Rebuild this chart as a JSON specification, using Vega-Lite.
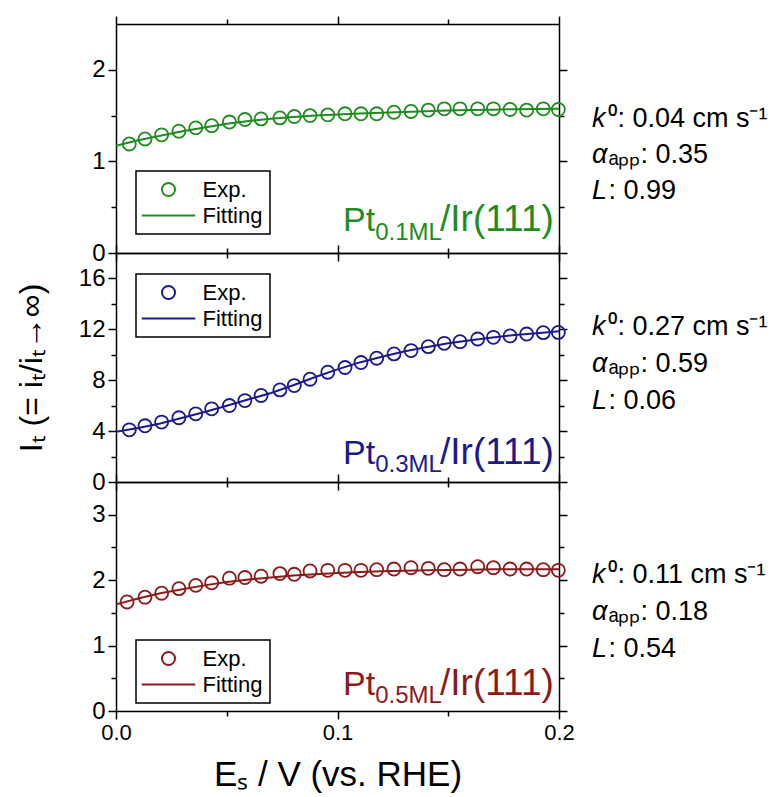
{
  "$schema": "https://vega.github.io/schema/vega-lite/v6.json",
  "background": "white",
  "padding": {"left": 15, "top": 15, "right": 5, "bottom": 5},
  "config": {
    "font": "Liberation Sans",
    "view": {"stroke": null},
    "axis": {"domainColor": "black", "domainWidth": 1.5, "tickColor": "black", "tickWidth": 1.5, "labelFont": "Liberation Sans", "labelFontSize": 22, "labelColor": "black", "labelPadding": 3, "grid": false, "titleFont": "Liberation Sans", "titleFontSize": 32, "titleFontWeight": "normal", "titleColor": "black", "labelOverlap": false, "labelFlush": false},
    "axisY": {"labelFontSize": 24},
    "legend": {"title": null, "orient": "none", "padding": 7.5, "strokeColor": "black", "strokeWidth": 1.5, "fillColor": "white", "labelFont": "Liberation Sans", "labelFontSize": 22, "labelColor": "black", "symbolOffset": 14, "labelOffset": 23, "rowPadding": 4, "symbolSize": 170, "symbolStrokeWidth": 2, "symbolFillColor": "transparent", "labelLimit": 300}
  },
  "datasets": {
    "exp": [
      {"p":"A","E":0.006,"IT":1.19,"series":"Exp."},{"p":"A","E":0.0131,"IT":1.245,"series":"Exp."},{"p":"A","E":0.0206,"IT":1.29,"series":"Exp."},{"p":"A","E":0.0284,"IT":1.33,"series":"Exp."},{"p":"A","E":0.036,"IT":1.366,"series":"Exp."},{"p":"A","E":0.0432,"IT":1.39,"series":"Exp."},{"p":"A","E":0.0512,"IT":1.43,"series":"Exp."},{"p":"A","E":0.0582,"IT":1.457,"series":"Exp."},{"p":"A","E":0.0655,"IT":1.464,"series":"Exp."},{"p":"A","E":0.074,"IT":1.475,"series":"Exp."},{"p":"A","E":0.0805,"IT":1.49,"series":"Exp."},{"p":"A","E":0.0876,"IT":1.5,"series":"Exp."},{"p":"A","E":0.0956,"IT":1.508,"series":"Exp."},{"p":"A","E":0.1034,"IT":1.52,"series":"Exp."},{"p":"A","E":0.1106,"IT":1.52,"series":"Exp."},{"p":"A","E":0.1177,"IT":1.52,"series":"Exp."},{"p":"A","E":0.1255,"IT":1.537,"series":"Exp."},{"p":"A","E":0.1332,"IT":1.545,"series":"Exp."},{"p":"A","E":0.141,"IT":1.56,"series":"Exp."},{"p":"A","E":0.1482,"IT":1.574,"series":"Exp."},{"p":"A","E":0.1553,"IT":1.574,"series":"Exp."},{"p":"A","E":0.1633,"IT":1.574,"series":"Exp."},{"p":"A","E":0.1704,"IT":1.574,"series":"Exp."},{"p":"A","E":0.1779,"IT":1.567,"series":"Exp."},{"p":"A","E":0.1854,"IT":1.56,"series":"Exp."},{"p":"A","E":0.1929,"IT":1.574,"series":"Exp."},{"p":"A","E":0.1997,"IT":1.567,"series":"Exp."},
      {"p":"B","E":0.006,"IT":4.1,"series":"Exp."},{"p":"B","E":0.0131,"IT":4.42,"series":"Exp."},{"p":"B","E":0.0206,"IT":4.71,"series":"Exp."},{"p":"B","E":0.0284,"IT":5.05,"series":"Exp."},{"p":"B","E":0.036,"IT":5.36,"series":"Exp."},{"p":"B","E":0.0432,"IT":5.75,"series":"Exp."},{"p":"B","E":0.0512,"IT":6.01,"series":"Exp."},{"p":"B","E":0.0582,"IT":6.4,"series":"Exp."},{"p":"B","E":0.0655,"IT":6.8,"series":"Exp."},{"p":"B","E":0.074,"IT":7.24,"series":"Exp."},{"p":"B","E":0.0805,"IT":7.58,"series":"Exp."},{"p":"B","E":0.0876,"IT":8.08,"series":"Exp."},{"p":"B","E":0.0956,"IT":8.63,"series":"Exp."},{"p":"B","E":0.1034,"IT":9.0,"series":"Exp."},{"p":"B","E":0.1106,"IT":9.39,"series":"Exp."},{"p":"B","E":0.1177,"IT":9.73,"series":"Exp."},{"p":"B","E":0.1255,"IT":10.07,"series":"Exp."},{"p":"B","E":0.1332,"IT":10.33,"series":"Exp."},{"p":"B","E":0.141,"IT":10.64,"series":"Exp."},{"p":"B","E":0.1482,"IT":10.9,"series":"Exp."},{"p":"B","E":0.1553,"IT":11.03,"series":"Exp."},{"p":"B","E":0.1633,"IT":11.24,"series":"Exp."},{"p":"B","E":0.1704,"IT":11.37,"series":"Exp."},{"p":"B","E":0.1779,"IT":11.48,"series":"Exp."},{"p":"B","E":0.1854,"IT":11.63,"series":"Exp."},{"p":"B","E":0.1929,"IT":11.74,"series":"Exp."},{"p":"B","E":0.1997,"IT":11.76,"series":"Exp."},
      {"p":"C","E":0.005,"IT":1.666,"series":"Exp."},{"p":"C","E":0.0131,"IT":1.74,"series":"Exp."},{"p":"C","E":0.0206,"IT":1.8,"series":"Exp."},{"p":"C","E":0.0284,"IT":1.87,"series":"Exp."},{"p":"C","E":0.036,"IT":1.92,"series":"Exp."},{"p":"C","E":0.0432,"IT":1.96,"series":"Exp."},{"p":"C","E":0.0512,"IT":2.03,"series":"Exp."},{"p":"C","E":0.0582,"IT":2.04,"series":"Exp."},{"p":"C","E":0.0655,"IT":2.06,"series":"Exp."},{"p":"C","E":0.074,"IT":2.1,"series":"Exp."},{"p":"C","E":0.0805,"IT":2.09,"series":"Exp."},{"p":"C","E":0.0876,"IT":2.14,"series":"Exp."},{"p":"C","E":0.0956,"IT":2.15,"series":"Exp."},{"p":"C","E":0.1034,"IT":2.15,"series":"Exp."},{"p":"C","E":0.1106,"IT":2.15,"series":"Exp."},{"p":"C","E":0.1177,"IT":2.16,"series":"Exp."},{"p":"C","E":0.1255,"IT":2.17,"series":"Exp."},{"p":"C","E":0.1332,"IT":2.19,"series":"Exp."},{"p":"C","E":0.141,"IT":2.18,"series":"Exp."},{"p":"C","E":0.1482,"IT":2.16,"series":"Exp."},{"p":"C","E":0.1553,"IT":2.17,"series":"Exp."},{"p":"C","E":0.1633,"IT":2.205,"series":"Exp."},{"p":"C","E":0.1704,"IT":2.19,"series":"Exp."},{"p":"C","E":0.1779,"IT":2.17,"series":"Exp."},{"p":"C","E":0.1854,"IT":2.17,"series":"Exp."},{"p":"C","E":0.1929,"IT":2.16,"series":"Exp."},{"p":"C","E":0.1997,"IT":2.15,"series":"Exp."}
    ],
    "fit": [
      {"p":"A","E":0,"IT":1.17},{"p":"A","E":0.01,"IT":1.23},{"p":"A","E":0.02,"IT":1.28},{"p":"A","E":0.03,"IT":1.33},{"p":"A","E":0.04,"IT":1.37},{"p":"A","E":0.05,"IT":1.41},{"p":"A","E":0.06,"IT":1.44},{"p":"A","E":0.07,"IT":1.465},{"p":"A","E":0.08,"IT":1.485},{"p":"A","E":0.09,"IT":1.5},{"p":"A","E":0.1,"IT":1.512},{"p":"A","E":0.11,"IT":1.522},{"p":"A","E":0.12,"IT":1.532},{"p":"A","E":0.13,"IT":1.54},{"p":"A","E":0.14,"IT":1.548},{"p":"A","E":0.15,"IT":1.555},{"p":"A","E":0.16,"IT":1.56},{"p":"A","E":0.17,"IT":1.565},{"p":"A","E":0.18,"IT":1.57},{"p":"A","E":0.19,"IT":1.573},{"p":"A","E":0.2,"IT":1.576},
      {"p":"B","E":0,"IT":3.95},{"p":"B","E":0.01,"IT":4.25},{"p":"B","E":0.02,"IT":4.6},{"p":"B","E":0.03,"IT":5.05},{"p":"B","E":0.04,"IT":5.5},{"p":"B","E":0.05,"IT":6.0},{"p":"B","E":0.06,"IT":6.5},{"p":"B","E":0.07,"IT":7.0},{"p":"B","E":0.08,"IT":7.6},{"p":"B","E":0.09,"IT":8.25},{"p":"B","E":0.1,"IT":8.85},{"p":"B","E":0.11,"IT":9.4},{"p":"B","E":0.12,"IT":9.85},{"p":"B","E":0.13,"IT":10.25},{"p":"B","E":0.14,"IT":10.6},{"p":"B","E":0.15,"IT":10.9},{"p":"B","E":0.16,"IT":11.15},{"p":"B","E":0.17,"IT":11.35},{"p":"B","E":0.18,"IT":11.55},{"p":"B","E":0.19,"IT":11.7},{"p":"B","E":0.2,"IT":11.85},
      {"p":"C","E":0,"IT":1.63},{"p":"C","E":0.01,"IT":1.72},{"p":"C","E":0.02,"IT":1.8},{"p":"C","E":0.03,"IT":1.86},{"p":"C","E":0.04,"IT":1.92},{"p":"C","E":0.05,"IT":1.97},{"p":"C","E":0.06,"IT":2.01},{"p":"C","E":0.07,"IT":2.04},{"p":"C","E":0.08,"IT":2.07},{"p":"C","E":0.09,"IT":2.09},{"p":"C","E":0.1,"IT":2.11},{"p":"C","E":0.11,"IT":2.125},{"p":"C","E":0.12,"IT":2.135},{"p":"C","E":0.13,"IT":2.145},{"p":"C","E":0.14,"IT":2.15},{"p":"C","E":0.15,"IT":2.155},{"p":"C","E":0.16,"IT":2.16},{"p":"C","E":0.17,"IT":2.165},{"p":"C","E":0.18,"IT":2.165},{"p":"C","E":0.19,"IT":2.165},{"p":"C","E":0.2,"IT":2.165}
    ]
  },
  "spacing": 0,
  "bounds": "flush",
  "resolve": {"scale": {"shape": "independent"}, "legend": {"shape": "independent"}},
  "vconcat": [
    {
      "width": 443, "height": 229,
      "layer": [
        {"data": {"name": "fit"}, "transform": [{"filter": "datum.p === 'A'"}],
         "mark": {"type": "line", "color": "#1e8c1e", "strokeWidth": 2},
         "encoding": {
           "x": {"field": "E", "type": "quantitative", "scale": {"domain": [0, 0.2], "nice": false, "zero": false},
                 "axis": {"orient": "top", "values": [0, 0.05, 0.1, 0.15, 0.2], "labels": false, "title": null, "tickSize": {"condition": {"test": "abs(datum.value*10-round(datum.value*10)) < 0.001", "value": 8}, "value": 5}}},
           "y": {"field": "IT", "type": "quantitative", "scale": {"domain": [0, 2.5], "nice": false},
                 "axis": {"orient": "right", "values": [0, 0.5, 1, 1.5, 2], "labels": false, "title": null, "tickSize": {"condition": {"test": "datum.value % 1 === 0", "value": 8}, "value": 5}}}
         }},
        {"data": {"name": "exp"}, "transform": [{"filter": "datum.p === 'A'"}],
         "mark": {"type": "point", "filled": false, "color": "#1e8c1e", "strokeWidth": 1.8, "size": 170, "opacity": 1},
         "encoding": {
           "x": {"field": "E", "type": "quantitative",
                 "axis": {"orient": "bottom", "values": [0, 0.05, 0.1, 0.15, 0.2], "labels": false, "title": null, "tickSize": {"condition": {"test": "abs(datum.value*10-round(datum.value*10)) < 0.001", "value": 8}, "value": 5}}},
           "y": {"field": "IT", "type": "quantitative",
                 "axis": {"orient": "left", "values": [0, 0.5, 1, 1.5, 2], "labelExpr": "datum.value % 1 === 0 ? format(datum.value, '.0f') : ''", "title": null, "tickSize": {"condition": {"test": "datum.value % 1 === 0", "value": 8}, "value": 5}}},
           "shape": {"field": "series", "type": "nominal", "scale": {"domain": ["Exp.", "Fitting"], "range": ["circle", "M-4.1,0H4.1"]},
                     "legend": {"legendX": 20, "legendY": 147, "symbolStrokeColor": "#1e8c1e"}}
         }},
        {"data": {"values": [{}]}, "mark": {"type": "text", "text": "Pt", "fontSize": 34, "color": "#1e8c1e", "align": "left", "baseline": "alphabetic"},
         "encoding": {"x": {"datum": 0.1025, "type": "quantitative", "axis": null}, "y": {"datum": 0.24, "type": "quantitative", "axis": null}}},
        {"data": {"values": [{}]}, "mark": {"type": "text", "text": "0.1ML", "fontSize": 24, "color": "#1e8c1e", "align": "left", "baseline": "alphabetic"},
         "encoding": {"x": {"datum": 0.117, "type": "quantitative", "axis": null}, "y": {"datum": 0.145, "type": "quantitative", "axis": null}}},
        {"data": {"values": [{}]}, "mark": {"type": "text", "text": "/Ir(111)", "fontSize": 37, "color": "#1e8c1e", "align": "left", "baseline": "alphabetic"},
         "encoding": {"x": {"datum": 0.1463, "type": "quantitative", "axis": null}, "y": {"datum": 0.24, "type": "quantitative", "axis": null}}},
        {"data": {"values": [{}]}, "mark": {"type": "text", "text": ["k", "α", "L"], "fontSize": 27, "fontStyle": "italic", "color": "black", "align": "left", "baseline": "alphabetic", "lineHeight": 36},
         "encoding": {"x": {"datum": 0.2149, "type": "quantitative", "axis": null}, "y": {"datum": 1.377, "type": "quantitative", "axis": null}}},
        {"data": {"values": [{}]}, "mark": {"type": "text", "text": ["⁰: 0.04 cm s⁻¹", "ₐₚₚ: 0.35", ": 0.99"], "fontSize": 27, "color": "black", "align": "left", "baseline": "alphabetic", "lineHeight": 36},
         "encoding": {"x": {"datum": 0.2223, "type": "quantitative", "axis": null}, "y": {"datum": 1.377, "type": "quantitative", "axis": null}}}
      ],
      "resolve": {"axis": {"x": "independent", "y": "independent"}}
    },
    {
      "width": 443, "height": 229,
      "layer": [
        {"data": {"name": "fit"}, "transform": [{"filter": "datum.p === 'B'"}],
         "mark": {"type": "line", "color": "#1a1a8c", "strokeWidth": 2},
         "encoding": {
           "x": {"field": "E", "type": "quantitative", "scale": {"domain": [0, 0.2], "nice": false, "zero": false},
                 "axis": {"orient": "top", "values": [0, 0.05, 0.1, 0.15, 0.2], "labels": false, "title": null, "tickSize": {"condition": {"test": "abs(datum.value*10-round(datum.value*10)) < 0.001", "value": 8}, "value": 5}}},
           "y": {"field": "IT", "type": "quantitative", "scale": {"domain": [0, 18], "nice": false},
                 "axis": {"orient": "right", "values": [0, 2, 4, 6, 8, 10, 12, 14, 16], "labels": false, "title": null, "tickSize": {"condition": {"test": "datum.value % 4 === 0", "value": 8}, "value": 5}}}
         }},
        {"data": {"name": "exp"}, "transform": [{"filter": "datum.p === 'B'"}],
         "mark": {"type": "point", "filled": false, "color": "#1a1a8c", "strokeWidth": 1.8, "size": 170, "opacity": 1},
         "encoding": {
           "x": {"field": "E", "type": "quantitative",
                 "axis": {"orient": "bottom", "values": [0, 0.05, 0.1, 0.15, 0.2], "labels": false, "title": null, "tickSize": {"condition": {"test": "abs(datum.value*10-round(datum.value*10)) < 0.001", "value": 8}, "value": 5}}},
           "y": {"field": "IT", "type": "quantitative",
                 "axis": {"orient": "left", "values": [0, 2, 4, 6, 8, 10, 12, 14, 16], "labelExpr": "datum.value % 4 === 0 ? format(datum.value, '.0f') : ''", "title": "Iₜ (= iₜ/iₜ→∞)", "titlePadding": 30, "tickSize": {"condition": {"test": "datum.value % 4 === 0", "value": 8}, "value": 5}}},
           "shape": {"field": "series", "type": "nominal", "scale": {"domain": ["Exp.", "Fitting"], "range": ["circle", "M-4.1,0H4.1"]},
                     "legend": {"legendX": 20, "legendY": 21, "symbolStrokeColor": "#1a1a8c"}}
         }},
        {"data": {"values": [{}]}, "mark": {"type": "text", "text": "Pt", "fontSize": 34, "color": "#1a1a8c", "align": "left", "baseline": "alphabetic"},
         "encoding": {"x": {"datum": 0.1025, "type": "quantitative", "axis": null}, "y": {"datum": 1.44, "type": "quantitative", "axis": null}}},
        {"data": {"values": [{}]}, "mark": {"type": "text", "text": "0.3ML", "fontSize": 24, "color": "#1a1a8c", "align": "left", "baseline": "alphabetic"},
         "encoding": {"x": {"datum": 0.117, "type": "quantitative", "axis": null}, "y": {"datum": 0.76, "type": "quantitative", "axis": null}}},
        {"data": {"values": [{}]}, "mark": {"type": "text", "text": "/Ir(111)", "fontSize": 37, "color": "#1a1a8c", "align": "left", "baseline": "alphabetic"},
         "encoding": {"x": {"datum": 0.1463, "type": "quantitative", "axis": null}, "y": {"datum": 1.44, "type": "quantitative", "axis": null}}},
        {"data": {"values": [{}]}, "mark": {"type": "text", "text": ["k", "α", "L"], "fontSize": 27, "fontStyle": "italic", "color": "black", "align": "left", "baseline": "alphabetic", "lineHeight": 37},
         "encoding": {"x": {"datum": 0.2149, "type": "quantitative", "axis": null}, "y": {"datum": 11.53, "type": "quantitative", "axis": null}}},
        {"data": {"values": [{}]}, "mark": {"type": "text", "text": ["⁰: 0.27 cm s⁻¹", "ₐₚₚ: 0.59", ": 0.06"], "fontSize": 27, "color": "black", "align": "left", "baseline": "alphabetic", "lineHeight": 37},
         "encoding": {"x": {"datum": 0.2223, "type": "quantitative", "axis": null}, "y": {"datum": 11.53, "type": "quantitative", "axis": null}}}
      ],
      "resolve": {"axis": {"x": "independent", "y": "independent"}}
    },
    {
      "width": 443, "height": 229,
      "layer": [
        {"data": {"name": "fit"}, "transform": [{"filter": "datum.p === 'C'"}],
         "mark": {"type": "line", "color": "#8c1a1a", "strokeWidth": 2},
         "encoding": {
           "x": {"field": "E", "type": "quantitative", "scale": {"domain": [0, 0.2], "nice": false, "zero": false},
                 "axis": {"orient": "top", "values": [0, 0.05, 0.1, 0.15, 0.2], "labels": false, "title": null, "tickSize": {"condition": {"test": "abs(datum.value*10-round(datum.value*10)) < 0.001", "value": 8}, "value": 5}}},
           "y": {"field": "IT", "type": "quantitative", "scale": {"domain": [0, 3.5], "nice": false},
                 "axis": {"orient": "right", "values": [0, 0.5, 1, 1.5, 2, 2.5, 3], "labels": false, "title": null, "tickSize": {"condition": {"test": "datum.value % 1 === 0", "value": 8}, "value": 5}}}
         }},
        {"data": {"name": "exp"}, "transform": [{"filter": "datum.p === 'C'"}],
         "mark": {"type": "point", "filled": false, "color": "#8c1a1a", "strokeWidth": 1.8, "size": 170, "opacity": 1},
         "encoding": {
           "x": {"field": "E", "type": "quantitative",
                 "axis": {"orient": "bottom", "values": [0, 0.05, 0.1, 0.15, 0.2], "labelExpr": "abs(datum.value*10-round(datum.value*10)) < 0.001 ? format(datum.value, '.1f') : ''", "title": "Eₛ / V (vs. RHE)", "titleFontSize": 35, "titlePadding": 14, "tickSize": {"condition": {"test": "abs(datum.value*10-round(datum.value*10)) < 0.001", "value": 8}, "value": 5}}},
           "y": {"field": "IT", "type": "quantitative",
                 "axis": {"orient": "left", "values": [0, 0.5, 1, 1.5, 2, 2.5, 3], "labelExpr": "datum.value % 1 === 0 ? format(datum.value, '.0f') : ''", "title": null, "tickSize": {"condition": {"test": "datum.value % 1 === 0", "value": 8}, "value": 5}}},
           "shape": {"field": "series", "type": "nominal", "scale": {"domain": ["Exp.", "Fitting"], "range": ["circle", "M-4.1,0H4.1"]},
                     "legend": {"legendX": 20, "legendY": 158, "symbolStrokeColor": "#8c1a1a"}}
         }},
        {"data": {"values": [{}]}, "mark": {"type": "text", "text": "Pt", "fontSize": 34, "color": "#8c1a1a", "align": "left", "baseline": "alphabetic"},
         "encoding": {"x": {"datum": 0.1025, "type": "quantitative", "axis": null}, "y": {"datum": 0.25, "type": "quantitative", "axis": null}}},
        {"data": {"values": [{}]}, "mark": {"type": "text", "text": "0.5ML", "fontSize": 24, "color": "#8c1a1a", "align": "left", "baseline": "alphabetic"},
         "encoding": {"x": {"datum": 0.117, "type": "quantitative", "axis": null}, "y": {"datum": 0.128, "type": "quantitative", "axis": null}}},
        {"data": {"values": [{}]}, "mark": {"type": "text", "text": "/Ir(111)", "fontSize": 37, "color": "#8c1a1a", "align": "left", "baseline": "alphabetic"},
         "encoding": {"x": {"datum": 0.1463, "type": "quantitative", "axis": null}, "y": {"datum": 0.25, "type": "quantitative", "axis": null}}},
        {"data": {"values": [{}]}, "mark": {"type": "text", "text": ["k", "α", "L"], "fontSize": 27, "fontStyle": "italic", "color": "black", "align": "left", "baseline": "alphabetic", "lineHeight": 37},
         "encoding": {"x": {"datum": 0.2149, "type": "quantitative", "axis": null}, "y": {"datum": 1.954, "type": "quantitative", "axis": null}}},
        {"data": {"values": [{}]}, "mark": {"type": "text", "text": ["⁰: 0.11 cm s⁻¹", "ₐₚₚ: 0.18", ": 0.54"], "fontSize": 27, "color": "black", "align": "left", "baseline": "alphabetic", "lineHeight": 37},
         "encoding": {"x": {"datum": 0.2223, "type": "quantitative", "axis": null}, "y": {"datum": 1.954, "type": "quantitative", "axis": null}}}
      ],
      "resolve": {"axis": {"x": "independent", "y": "independent"}}
    }
  ]
}
